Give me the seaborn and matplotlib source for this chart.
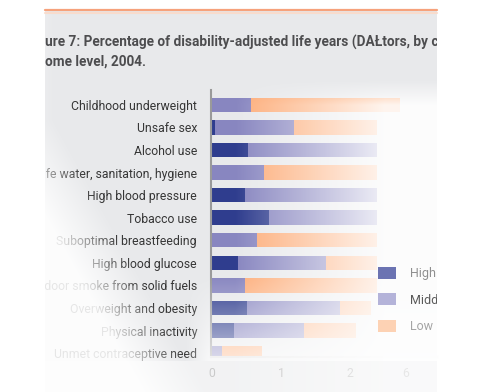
import numpy as np
import pandas as pd
import matplotlib
matplotlib.use("Agg")
import matplotlib.pyplot as plt
import seaborn as sns
from matplotlib.patches import Rectangle, Patch
from matplotlib.lines import Line2D

# データ
categories = [
    "Childhood underweight",
    "Unsafe sex",
    "Alcohol use",
    "Unsafe water, sanitation, hygiene",
    "High blood pressure",
    "Tobacco use",
    "Suboptimal breastfeeding",
    "High blood glucose",
    "Indoor smoke from solid fuels",
    "Overweight and obesity",
    "Physical inactivity",
    "Unmet contraceptive need",
]
high = [0, 0.05, 0.52, 0, 0.48, 0.83, 0, 0.38, 0, 0.51, 0.32, 0]
middle = [0.56, 1.14, 1.87, 0.75, 1.91, 1.56, 0.65, 1.27, 0.48, 1.35, 1.01, 0.15]
low = [2.16, 1.20, 0, 1.64, 0, 0, 1.74, 0.74, 1.91, 0.45, 0.75, 0.58]
tick_values = [0, 1, 2, 2.8]
tick_labels = ["0", "1", "2", "6"]
legend_labels = ["High income", "Middle income", "Low income"]

title_1 = "ure 7: Percentage of disability-adjusted life years (DAŁtors, by country"
title_2 = "ome level, 2004."

HIGH_C = "#2f3d8e"
MID_C = "#8886c0"
LOW_C = "#fdae7b"
PANEL_C = "#e8e9eb"

df = pd.DataFrame({"factor": categories, "high": high, "middle": middle, "low": low})
df["hm"] = df["high"] + df["middle"]
df["total"] = df["hm"] + df["low"]

sns.set_theme(style="white")
plt.rcParams["font.family"] = ["Roboto", "DejaVu Sans"]

W, H = 481, 392
fig = plt.figure(figsize=(W / 100, H / 100), dpi=100)
fig.patch.set_facecolor("white")

# 背景パネル
panel = Rectangle((45 / W, 0), (437 - 45) / W, (H - 10) / H, transform=fig.transFigure,
                  facecolor=PANEL_C, edgecolor="none", zorder=-1)
fig.patches.append(panel)

ax = fig.add_axes([211 / W, (H - 357) / H, (437 - 211) / W, (357 - 90) / H])
ax.set_facecolor("none")

# 積み上げ棒（後ろから順に描画）
for col, color in [("total", LOW_C), ("hm", MID_C), ("high", HIGH_C)]:
    sns.barplot(data=df, x=col, y="factor", order=categories, orient="h",
                color=color, saturation=1, width=0.64, linewidth=0,
                errorbar=None, ax=ax)

ax.set_xlim(-1 / 69, (437 - 212) / 69)
ax.set_ylim(11.17, -0.656)
ax.set_xticks(tick_values)
ax.set_xticklabels(tick_labels)
ax.set_xlabel("")
ax.set_ylabel("")
ax.tick_params(axis="y", length=0, pad=10, labelsize=8.8, labelcolor="#363636")
ax.tick_params(axis="x", length=0, pad=7, labelsize=8.8, labelcolor="#a0a0a0")
for t in ax.get_yticklabels():
    t.set_clip_path(panel)
for s in ["top", "right"]:
    ax.spines[s].set_visible(False)
ax.spines["left"].set_color("#9a9a9a")
ax.spines["left"].set_linewidth(1.5)
ax.spines["bottom"].set_color("#d6d6d6")
ax.spines["bottom"].set_linewidth(1.5)

# フェード効果（白のグラデーション）
yy, xx = np.mgrid[0:H, 0:W] + 0.5
a_r = np.clip((xx - 235) / 150, 0, 1) * 0.88 * np.clip((yy - 80) / 25, 0, 1)
xb = 55 + np.clip(yy - 120, 0, None) * 0.55
a_l = np.clip((xb - xx) / 70, 0, 0.88)
a_b = np.clip((yy - 275) / 85, 0, 1) * 0.7 * np.clip((xx - 185) / 25, 0, 1)
alpha = 1 - (1 - a_r) * (1 - a_l) * (1 - a_b)
below = 1 - (1 - 0.45) * (1 - a_l)
alpha = np.where(yy > 361, np.maximum(below, 0.45 + 0.35 * a_r), alpha)
img = np.ones((H, W, 4))
img[..., 3] = alpha
ov = fig.add_axes([0, 0, 1, 1], zorder=10)
ov.imshow(img, extent=(0, W, H, 0), interpolation="bilinear", aspect="auto")
ov.set_xlim(0, W)
ov.set_ylim(H, 0)
ov.set_axis_off()

# 上部のオレンジ線
fig.add_artist(Line2D([45 / W, 437 / W], [1 - 10 / H, 1 - 10 / H], transform=fig.transFigure,
                      color="#f6a27c", lw=1.6, zorder=20))
fig.add_artist(Line2D([45 / W, 437 / W], [1 - 12.5 / H, 1 - 12.5 / H], transform=fig.transFigure,
                      color="#f8dccd", lw=1.5, zorder=20))

# タイトル
for txt, yp in [(title_1, 42), (title_2, 62)]:
    t = fig.text(45 / W, 1 - yp / H, txt, ha="left", va="center", fontsize=9.8,
                 fontweight="bold", color="#4d4d4f", zorder=20)
    t.set_clip_path(panel)

# 凡例
handles = [Patch(facecolor="#6b73b2", edgecolor="none"),
           Patch(facecolor="#b4b3d9", edgecolor="none"),
           Patch(facecolor="#fdd2b4", edgecolor="none")]
leg = fig.legend(handles, legend_labels, loc="upper left",
                 bbox_to_anchor=(378 / W, 1 - 267 / H), frameon=False,
                 fontsize=9, handlelength=1.42, handleheight=1.1,
                 labelspacing=1.05, handletextpad=1.1, borderpad=0, borderaxespad=0)
leg.set_zorder(20)
for t, c in zip(leg.get_texts(), ["#8f8f8f", "#5a5a5a", "#a5a5a5"]):
    t.set_color(c)
    t.set_clip_path(panel)

fig.savefig("out.png", dpi=100)
